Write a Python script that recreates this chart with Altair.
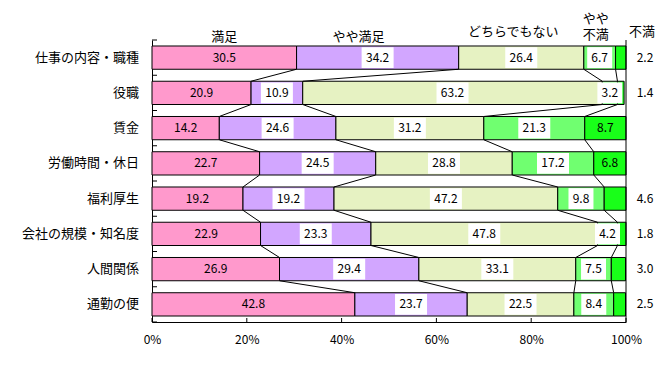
import altair as alt
import pandas as pd

categories = ["仕事の内容・職種", "役職", "賃金", "労働時間・休日", "福利厚生",
              "会社の規模・知名度", "人間関係", "通勤の便"]
series_names = ["満足", "やや満足", "どちらでもない", "やや不満", "不満"]
manzoku = [30.5, 20.9, 14.2, 22.7, 19.2, 22.9, 26.9, 42.8]
yaya_manzoku = [34.2, 10.9, 24.6, 24.5, 19.2, 23.3, 29.4, 23.7]
dochira = [26.4, 63.2, 31.2, 28.8, 47.2, 47.8, 33.1, 22.5]
yaya_fuman = [6.7, 3.2, 21.3, 17.2, 9.8, 4.2, 7.5, 8.4]
fuman = [2.2, 1.4, 8.7, 6.8, 4.6, 1.8, 3.0, 2.5]
x_ticks = [0, 20, 40, 60, 80, 100]

colors = ["#FF99CC", "#D2A6FF", "#E6F2C2", "#70FF70", "#19FF19"]
FONT = "Noto Sans CJK JP"
H = 0.33  # half bar thickness in row units

series_vals = [manzoku, yaya_manzoku, dochira, yaya_fuman, fuman]

seg_rows, label_rows, box_rows, conn_rows = [], [], [], []
cums = []
for i, cat in enumerate(categories):
    start = 0.0
    cum_row = []
    for s, name in enumerate(series_names):
        v = series_vals[s][i]
        end = start + v
        seg_rows.append(dict(cat=cat, series=name, start=start, end=end,
                             y0=i + 0.5 - H, y1=i + 0.5 + H))
        txt = f"{v:.1f}"
        center = (start + end) / 2
        outside = (s == 4 and v <= 5)
        label_rows.append(dict(x=100 if outside else center, y=i + 0.5, text=txt,
                               outside=outside))
        if s in (1, 2, 3):
            box_rows.append(dict(x=center, y=i + 0.5, n=len(txt)))
        cum_row.append(end)
        start = end
    cums.append(cum_row)

for i in range(len(categories) - 1):
    for k in range(4):
        conn_rows.append(dict(x=cums[i][k], x2=cums[i + 1][k],
                              y=i + 0.5 + H, y2=i + 1.5 - H))

segs = pd.DataFrame(seg_rows)
labels = pd.DataFrame(label_rows)
boxes = pd.DataFrame(box_rows)
conns = pd.DataFrame(conn_rows)
cat_df = pd.DataFrame(dict(cat=categories, y=[i + 0.5 for i in range(len(categories))]))

xs = alt.Scale(domain=[0, 100], nice=False, zero=False)
ys = alt.Scale(domain=[0, len(categories)], reverse=True, nice=False, zero=False)
xaxis = alt.Axis(values=x_ticks, labelExpr="datum.value + '%'", grid=False, ticks=False,
                 domainColor="black", labelFont=FONT, labelFontSize=12, labelColor="black",
                 labelPadding=12, title=None, labelFlush=False)
yaxis = alt.Axis(labels=False, ticks=False, grid=False, domainColor="black", title=None)


def X(f):
    return alt.X(f, scale=xs, axis=xaxis)


def Y(f):
    return alt.Y(f, scale=ys, axis=yaxis)


bars = alt.Chart(segs).mark_bar(stroke="black", strokeWidth=1, opacity=1).encode(
    x=X("start:Q"), x2="end:Q", y=Y("y0:Q"), y2="y1:Q",
    color=alt.Color("series:N", scale=alt.Scale(domain=series_names, range=colors),
                    legend=None),
)


def box_layer(n, w):
    hh = 21 / w
    path = f"M-1,-{hh:.3f}H1V{hh:.3f}H-1Z"
    return alt.Chart(boxes[boxes.n == n]).mark_point(
        shape=path, filled=True, fill="white", strokeWidth=0, opacity=1, size=w * w
    ).encode(x=X("x:Q"), y=Y("y:Q"))


box4 = box_layer(4, 32)
box3 = box_layer(3, 25)

inside = alt.Chart(labels[~labels.outside]).mark_text(
    font=FONT, fontSize=12, color="black", baseline="middle", align="center"
).encode(x=X("x:Q"), y=Y("y:Q"), text="text:N")
outside = alt.Chart(labels[labels.outside]).mark_text(
    font=FONT, fontSize=12, color="black", baseline="middle", align="center", dx=19
).encode(x=X("x:Q"), y=Y("y:Q"), text="text:N")

connectors = alt.Chart(conns).mark_rule(color="black", strokeWidth=1).encode(
    x=X("x:Q"), x2="x2:Q", y=Y("y:Q"), y2="y2:Q")

right_line = alt.Chart(pd.DataFrame(dict(x=[100], y=[0], y2=[len(categories)]))).mark_rule(
    color="black", strokeWidth=1).encode(x=X("x:Q"), y=Y("y:Q"), y2="y2:Q")

left_ticks = alt.Chart(pd.DataFrame(dict(y=list(range(len(categories) + 1))))).mark_rule(
    color="black", strokeWidth=1).encode(
    x=alt.value(0), x2=alt.value(5), y=Y("y:Q"))

bottom_ticks = alt.Chart(pd.DataFrame(dict(x=x_ticks))).mark_rule(
    color="black", strokeWidth=1).encode(
    x=X("x:Q"), y=alt.value(282), y2=alt.value(278))

cat_labels = alt.Chart(cat_df).mark_text(
    font=FONT, fontSize=13, color="black", align="right", baseline="middle", dx=-13
).encode(x=alt.value(0), y=Y("y:Q"), text="cat:N")

# series headers above the first bar
first = [(cums[0][k - 1] if k else 0, cums[0][k]) for k in range(5)]
header_cfg = [  # (dx, dy)
    (0, -3), (-19, -3), (-8, -8), (-4, -21), (16, -8)
]
headers = []
for k, name in enumerate(series_names):
    cx = 100 if k == 4 else (first[k][0] + first[k][1]) / 2
    dx, dy = header_cfg[k]
    txt = "やや\n不満" if name == "やや不満" else name
    headers.append(alt.Chart(pd.DataFrame(dict(x=[cx], t=[txt]))).mark_text(
        font=FONT, fontSize=13, color="black", align="center", baseline="middle",
        lineBreak="\n", lineHeight=16, dx=dx, dy=dy
    ).encode(x=X("x:Q"), y=alt.value(0), text="t:N"))

chart = alt.layer(bars, connectors, right_line, left_ticks, bottom_ticks,
                  box4, box3, inside, outside, cat_labels, *headers).properties(
    width=474, height=282,
    padding={"left": 144, "top": 32, "right": 29, "bottom": 30},
    autosize="none",
).configure_view(stroke=None)

chart.save("out.html", embed_options={"renderer": "svg", "actions": False})
